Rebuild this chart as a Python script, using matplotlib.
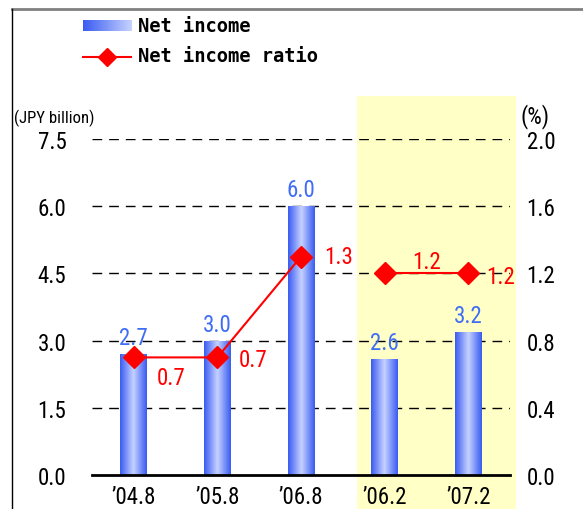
import numpy as np
import matplotlib
matplotlib.use('Agg')
import matplotlib.pyplot as plt
from matplotlib.colors import LinearSegmentedColormap
from matplotlib.patches import Rectangle
from matplotlib.lines import Line2D

categories = ["’04.8", "’05.8", "’06.8", "’06.2", "’07.2"]
net_income = [2.7, 3.0, 6.0, 2.6, 3.2]
ratio = [0.7, 0.7, 1.3, 1.2, 1.2]
income_labels = ["2.7", "3.0", "6.0", "2.6", "3.2"]
ratio_labels = ["0.7", "0.7", "1.3", "1.2", "1.2"]
left_ticks = [0.0, 1.5, 3.0, 4.5, 6.0, 7.5]
right_ticks = [0.0, 0.4, 0.8, 1.2, 1.6, 2.0]

NARROW = ['Roboto Condensed', 'Archivo Narrow', 'Liberation Sans Narrow', 'DejaVu Sans']
BLUE_TXT = '#3f6df5'
RED = '#ff0000'
FS = 16.5

W, H = 583, 510
fig = plt.figure(figsize=(W / 100, H / 100), dpi=100)

# highlight band for half-year figures
fig.add_artist(Rectangle((357 / W, 0), 159 / W, (H - 97) / H, transform=fig.transFigure,
                         facecolor='#ffffc6', edgecolor='none', zorder=0))
# frame lines
fig.add_artist(Line2D([12 / W, 1], [1 - 10 / H, 1 - 10 / H], transform=fig.transFigure,
                      color='#808080', lw=2, zorder=5))
fig.add_artist(Line2D([12 / W, 12 / W], [0, 1 - 10 / H], transform=fig.transFigure,
                      color='black', lw=1, zorder=5))

ax = fig.add_axes([92 / W, 34 / H, 418 / W, 336 / H])
ax.patch.set_alpha(0)
ax2 = ax.twinx()
ax2.patch.set_alpha(0)

x = np.arange(len(categories))
grad_cmap = LinearSegmentedColormap.from_list('g', ['#3a5cf2', '#c6d2ff', '#3a5cf2'])
grad = np.linspace(0, 1, 64).reshape(1, -1)
bars = ax.bar(x, net_income, width=0.32, color='#7f97f8', edgecolor='none', zorder=2)
for b in bars:
    x0, y0 = b.get_x(), b.get_y()
    im = ax.imshow(grad, cmap=grad_cmap, aspect='auto',
                   extent=[x0, x0 + b.get_width(), y0, y0 + b.get_height()], zorder=2.5)
    im.set_clip_path(b)

ax.set_xlim(-0.5, len(categories) - 0.5)
ax.set_ylim(0, 7.5)
ax2.set_ylim(0, 2.0)

for v in left_ticks[1:]:
    ax.axhline(v, color='black', lw=1, ls=(0, (7, 5)), zorder=1)

for a in (ax, ax2):
    for s in ('top', 'left', 'right'):
        a.spines[s].set_visible(False)
ax2.spines['bottom'].set_visible(False)
ax.spines['bottom'].set_linewidth(2)
ax.spines['bottom'].set_zorder(4)

ax.set_yticks(left_ticks)
ax.set_yticklabels([f"{v:.1f}" for v in left_ticks], family=NARROW, fontsize=FS)
ax2.set_yticks(right_ticks)
ax2.set_yticklabels([f"{v:.1f}" for v in right_ticks], family=NARROW, fontsize=FS)
ax.set_xticks(x)
ax.set_xticklabels(categories, family=NARROW, fontsize=FS)
ax.tick_params(axis='y', length=0, pad=18.5)
ax2.tick_params(axis='y', length=0, pad=12)
ax.tick_params(axis='x', length=0, pad=7)

# bar value labels
for xi, v, lab in zip(x, net_income, income_labels):
    ax.annotate(lab, (xi, v), xytext=(0, 5), textcoords='offset pixels', ha='center', va='bottom',
                color=BLUE_TXT, family=NARROW, fontsize=FS, zorder=6)

# ratio line (two segments)
ax2.plot(x[:3], ratio[:3], color=RED, lw=1.5, marker='D', ms=11, mec=RED, mfc=RED, zorder=5)
ax2.plot(x[3:], ratio[3:], color=RED, lw=1.5, marker='D', ms=11, mec=RED, mfc=RED, zorder=5)

offsets = [(37, -20), (36, -2), (38, 0), None, (32, -3)]
for xi, v, lab, off in zip(x, ratio, ratio_labels, offsets):
    if off is None:
        continue
    ax2.annotate(lab, (xi, v), xytext=off, textcoords='offset pixels', ha='center', va='center',
                 color=RED, family=NARROW, fontsize=FS, zorder=6)
ax2.annotate(ratio_labels[3], ((x[3] + x[4]) / 2, ratio[3]), xytext=(0, 12), textcoords='offset pixels',
             ha='center', va='center', color=RED, family=NARROW, fontsize=FS, zorder=6)

# axis unit labels
fig.text(14 / W, 1 - 118 / H, "(JPY billion)", family=NARROW, fontsize=12, va='center', ha='left')
fig.text(535 / W, 1 - 117 / H, "(%)", family=NARROW, fontsize=FS, va='center', ha='center')

# legend
lax = fig.add_axes([83 / W, 1 - 32 / H, 48 / W, 11 / H])
lax.imshow(grad, cmap=LinearSegmentedColormap.from_list('l', ['#3a5cf2', '#c6d2ff']), aspect='auto')
lax.axis('off')
fig.add_artist(Line2D([83 / W, 131 / W], [1 - 58 / H, 1 - 58 / H], transform=fig.transFigure,
                      color=RED, lw=1.5))
fig.add_artist(Line2D([107 / W], [1 - 58 / H], transform=fig.transFigure, color=RED,
                      marker='D', ms=9, mfc=RED, mec=RED))
fig.text(138 / W, 1 - 27 / H, "Net income", family='DejaVu Sans Mono', fontweight='bold',
         fontsize=13.5, va='center', ha='left')
fig.text(138 / W, 1 - 57 / H, "Net income ratio", family='DejaVu Sans Mono', fontweight='bold',
         fontsize=13.5, va='center', ha='left')

fig.savefig('out.png', dpi=100)
